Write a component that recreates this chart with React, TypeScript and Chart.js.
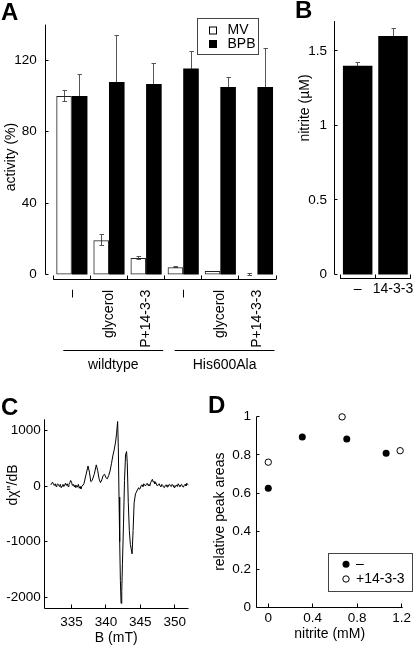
import React, { useEffect, useRef } from "react";
import { Chart, registerables } from "chart.js";
Chart.register(...registerables);

const FONT = "'Liberation Sans', Arial, Helvetica, sans-serif";
Chart.defaults.font.family = FONT;
Chart.defaults.font.size = 13.5;
Chart.defaults.color = "#000";

// ---------- Panel A data ----------
const aCategories = ["–", "glycerol", "P+14-3-3", "–", "glycerol", "P+14-3-3"];
const aSeriesNames = ["MV", "BPB"];
const aMV = [100, 19.2, 9.2, 4.1, 2.0, 0];
const aMVErr = [3, 3.2, 0.6, 0.4, 0, 0.3];
const aBPB = [100, 107.8, 106.7, 115.4, 105, 105];
const aBPBErr = [12.2, 26.2, 11.3, 9.4, 5.5, 21.6];
const aYTicks = [0, 40, 80, 120];
const aGroupLabels = ["wildtype", "His600Ala"];
const aGroupFirst = [0, 3];
const aGroupLast = [2, 5];

// ---------- Panel B data ----------
const bCategories = ["–", "14-3-3"];
const bNitrite = [1.4, 1.6];
const bErr = [0.02, 0.05];
const bYTicks = [0, 0.5, 1, 1.5];

// ---------- Panel C data ----------
const cField = [
  332.0, 332.125, 332.25, 332.375, 332.5, 332.625, 332.75, 332.875, 333.0, 333.125, 333.25, 333.375,
  333.5, 333.625, 333.75, 333.875, 334.0, 334.125, 334.25, 334.375, 334.5, 334.625, 334.75, 334.875,
  335.0, 335.125, 335.25, 335.375, 335.5, 335.625, 335.75, 335.875, 336.0, 336.125, 336.25, 336.375,
  336.5,
  336.8, 337.1, 337.4, 337.6, 337.8, 338.0, 338.3, 338.6, 338.8, 339.0, 339.2, 339.4,
  339.6, 339.8, 340.0, 340.2, 340.4, 340.6, 340.8, 341.0, 341.2, 341.4, 341.55, 341.7,
  341.8, 341.9, 342.0, 342.1, 342.2, 342.3, 342.4, 342.55, 342.7, 342.85, 343.0, 343.1,
  343.25, 343.4, 343.55, 343.7, 343.8, 343.95, 344.1, 344.3, 344.5,
  344.75, 344.875, 345.0, 345.125, 345.25, 345.375, 345.5, 345.625, 345.75, 345.875, 346.0, 346.125,
  346.25, 346.375, 346.5, 346.625, 346.75, 346.875, 347.0, 347.125, 347.25, 347.375, 347.5, 347.625,
  347.75, 347.875, 348.0, 348.125, 348.25, 348.375, 348.5, 348.625, 348.75, 348.875, 349.0, 349.125,
  349.25, 349.375, 349.5, 349.625, 349.75, 349.875, 350.0, 350.125, 350.25, 350.375, 350.5, 350.625,
  350.75, 350.875, 351.0, 351.125, 351.25, 351.375, 351.5, 351.625, 351.75, 351.875, 352.0,
];
const cSignal = [
  20, 50, 70, 30, 10, 40, -10, 20, 40, 10, -10, 30,
  -30, 0, 30, -10, 20, 50, 10, 40, -10, 30, 60, 100,
  70, 10, 30, -10, 20, -30, 10, -20, 30, -40, -10, -50,
  -10,
  40, 200, 360, 250, 80, 100, 210, 380, 280, 130, 60, 110,
  190, 210, 150, 130, 190, 270, 400, 540, 650, 790, 950, 1160,
  700, -200, -1000, -1700, -2110, -1900, -1400, -700, 100, 560, 620, 420,
  -300, -800, -1050, -1150, -1220, -800, -300, -140, -90,
  -30, -60, -40, 10, 20, -10, 40, 20, 0, 30, 50, 10,
  30, 0, 60, 90, 120, 70, 80, 40, 60, 20, 0, 30,
  40, 0, -10, 30, 10, -20, -30, 10, 20, -10, -20, 20,
  30, 0, -10, 30, 10, -20, -30, 0, 20, -10, 40, 10,
  -10, 20, 30, -10, -20, 10, 30, 0, 50, 30, 10,
];
const cXTicks = [335, 340, 345, 350];
const cYTicks = [-2000, -1000, 0, 1000];

// ---------- Panel D data ----------
const dSeriesNames = ["–", "+14-3-3"];
const dMinusX = [0, 0.306, 0.706, 1.06];
const dMinusY = [0.625, 0.894, 0.883, 0.809];
const dPlusX = [0, 0.664, 1.186];
const dPlusY = [0.762, 0.999, 0.822];
const dXTicks = [0, 0.4, 0.8, 1.2];
const dYTicks = [0, 0.2, 0.4, 0.6, 0.8, 1];

// ---------- helpers ----------
const TXT = 14;
const px = (v: number) => Math.round(v - 0.5) + 0.5;
function seg(ctx: CanvasRenderingContext2D, x1: number, y1: number, x2: number, y2: number) {
  ctx.beginPath();
  ctx.moveTo(x1, y1);
  ctx.lineTo(x2, y2);
  ctx.stroke();
}
function vTitle(ctx: CanvasRenderingContext2D, text: string, cx: number, cy: number) {
  ctx.save();
  ctx.translate(cx, cy);
  ctx.rotate(-Math.PI / 2);
  ctx.textAlign = "center";
  ctx.textBaseline = "middle";
  ctx.font = `${TXT}px ${FONT}`;
  ctx.fillStyle = "#000";
  ctx.fillText(text, 0, 0);
  ctx.restore();
}
function drawErrors(chart: any, errs: number[][]) {
  const { ctx } = chart;
  const y = chart.scales.y;
  ctx.save();
  ctx.strokeStyle = "#555";
  ctx.lineWidth = 1;
  errs.forEach((arr, di) => {
    const meta = chart.getDatasetMeta(di);
    const vals = chart.data.datasets[di].data as number[];
    meta.data.forEach((el: any, j: number) => {
      const e = arr[j];
      if (!e) return;
      const xx = px(el.x);
      const yt = px(y.getPixelForValue(vals[j] + e));
      const yb = px(y.getPixelForValue(vals[j] - e));
      seg(ctx, xx, yt, xx, yb);
      seg(ctx, xx - 2, yt, xx + 2.5, yt);
      seg(ctx, xx - 2, yb, xx + 2.5, yb);
    });
  });
  ctx.restore();
}
const noGrid = { display: false, drawTicks: false };
const noBorder = { display: false };
const fixedTicks = (arr: number[]) => (s: any) => {
  s.ticks = arr.map((v) => ({ value: v }));
};
const plain = (v: any) => String(v);

// ---------- chart configs ----------
function makeA(): any {
  const plugin = {
    id: "aDecor",
    beforeDatasetsDraw(chart: any) {
      drawErrors(chart, [aMVErr, aBPBErr]);
    },
    afterDraw(chart: any) {
      const { ctx, chartArea } = chart;
      const { x, y } = chart.scales;
      ctx.save();
      ctx.strokeStyle = "#000";
      ctx.lineWidth = 1;
      const axisX = px(chartArea.left - 7.5);
      seg(ctx, axisX, px(y.getPixelForValue(0)), axisX, chartArea.top);
      aYTicks.forEach((v) => {
        const yy = px(y.getPixelForValue(v));
        seg(ctx, axisX, yy, axisX + 3, yy);
      });
      const bottom = px(chartArea.bottom);
      seg(ctx, chartArea.left, bottom, chartArea.right, bottom);
      const w = x.getPixelForValue(1) - x.getPixelForValue(0);
      for (let i = 0; i <= aCategories.length; i++) {
        const xx = px(x.getPixelForValue(0) - w / 2 + i * w);
        seg(ctx, xx, bottom, xx, bottom - 4);
      }
      ctx.font = `${TXT}px ${FONT}`;
      ctx.fillStyle = "#000";
      ctx.textAlign = "center";
      ctx.textBaseline = "middle";
      aGroupLabels.forEach((lab, g) => {
        const x1 = x.getPixelForValue(aGroupFirst[g]) - w / 2 + 10;
        const x2 = x.getPixelForValue(aGroupLast[g]) + w / 2 - 1.5;
        const ly = px(chartArea.bottom + 71.4);
        seg(ctx, x1, ly, x2, ly);
        ctx.fillText(lab, (x1 + x2) / 2, chartArea.bottom + 86);
      });
      // legend
      ctx.strokeStyle = "#444";
      ctx.strokeRect(197.5, 18.5, 61, 36);
      ctx.textAlign = "left";
      const legY = [30.5, 44];
      aSeriesNames.forEach((name, i) => {
        ctx.fillStyle = i === 0 ? "#fff" : "#000";
        ctx.fillRect(209, legY[i] - 4, 8, 8);
        ctx.strokeStyle = "#000";
        ctx.strokeRect(209.5, legY[i] - 3.5, 7, 7);
        ctx.fillStyle = "#000";
        ctx.fillText(name, 227.5, legY[i]);
      });
      ctx.restore();
      vTitle(ctx, "activity (%)", 11, 157);
    },
  };
  return {
    type: "bar",
    data: {
      labels: aCategories,
      datasets: [
        { label: aSeriesNames[0], data: aMV, backgroundColor: "rgba(0,0,0,0)", borderColor: "#222", borderWidth: 1, borderSkipped: false },
        { label: aSeriesNames[1], data: aBPB, backgroundColor: "#000", borderColor: "#000", borderWidth: 0 },
      ],
    },
    options: {
      responsive: false,
      animation: false,
      devicePixelRatio: 1,
      layout: { padding: { top: 16, right: 14, left: 0, bottom: 0 } },
      plugins: { legend: { display: false }, tooltip: { enabled: false } },
      datasets: { bar: { categoryPercentage: 0.84, barPercentage: 1 } },
      scales: {
        x: {
          grid: noGrid,
          border: noBorder,
          ticks: { minRotation: 90, maxRotation: 90, autoSkip: false, padding: 10.5, font: { size: TXT } },
          afterFit: (s: any) => {
            s.height = 380 - 279.3;
          },
        },
        y: {
          min: -2.7,
          max: 140,
          grid: noGrid,
          border: noBorder,
          ticks: { padding: 16.5, callback: plain },
          afterBuildTicks: fixedTicks(aYTicks),
          afterFit: (s: any) => {
            s.width = 53.3;
          },
        },
      },
    },
    plugins: [plugin],
  };
}

function makeB(): any {
  const plugin = {
    id: "bDecor",
    beforeDatasetsDraw(chart: any) {
      drawErrors(chart, [bErr]);
    },
    afterDraw(chart: any) {
      const { ctx, chartArea } = chart;
      const { x, y } = chart.scales;
      ctx.save();
      ctx.strokeStyle = "#000";
      ctx.lineWidth = 1;
      const axisX = px(chartArea.left - 6);
      seg(ctx, axisX, px(y.getPixelForValue(0)), axisX, chartArea.top);
      bYTicks.forEach((v) => {
        const yy = px(y.getPixelForValue(v));
        seg(ctx, axisX, yy, axisX + 3, yy);
      });
      const bottom = px(chartArea.bottom);
      seg(ctx, chartArea.left, bottom, chartArea.right, bottom);
      const w = x.getPixelForValue(1) - x.getPixelForValue(0);
      for (let i = 0; i <= bCategories.length; i++) {
        const xx = px(x.getPixelForValue(0) - w / 2 + i * w);
        seg(ctx, xx, bottom, xx, bottom - 4);
      }
      ctx.restore();
      vTitle(ctx, "nitrite (µM)", 15, 108);
    },
  };
  return {
    type: "bar",
    data: {
      labels: bCategories,
      datasets: [{ label: "nitrite", data: bNitrite, backgroundColor: "#000", borderWidth: 0 }],
    },
    options: {
      responsive: false,
      animation: false,
      devicePixelRatio: 1,
      layout: { padding: { top: 17, right: 1, left: 0, bottom: 0 } },
      plugins: { legend: { display: false }, tooltip: { enabled: false } },
      datasets: { bar: { categoryPercentage: 0.835, barPercentage: 1 } },
      scales: {
        x: {
          grid: noGrid,
          border: noBorder,
          ticks: { maxRotation: 0, autoSkip: false, padding: 2.5, font: { size: TXT } },
          afterFit: (s: any) => {
            s.height = 330 - 278.5;
          },
        },
        y: {
          min: -0.027,
          max: 1.7,
          grid: noGrid,
          border: noBorder,
          ticks: { padding: 13, callback: plain },
          afterBuildTicks: fixedTicks(bYTicks),
          afterFit: (s: any) => {
            s.width = 50;
          },
        },
      },
    },
    plugins: [plugin],
  };
}

function makeC(): any {
  const plugin = {
    id: "cDecor",
    afterDraw(chart: any) {
      const { ctx, chartArea } = chart;
      const { x, y } = chart.scales;
      ctx.save();
      ctx.strokeStyle = "#000";
      ctx.lineWidth = 1;
      const axisX = px(chartArea.left);
      const bottom = px(chartArea.bottom);
      seg(ctx, axisX, bottom, axisX, chartArea.top);
      seg(ctx, axisX, bottom, chartArea.right, bottom);
      cYTicks.forEach((v) => {
        const yy = px(y.getPixelForValue(v));
        seg(ctx, axisX, yy, axisX + 3, yy);
      });
      cXTicks.forEach((v) => {
        const xx = px(x.getPixelForValue(v));
        seg(ctx, xx, bottom, xx, bottom - 4);
      });
      ctx.restore();
      vTitle(ctx, 'dχ"/dB', 13, 90);
    },
  };
  return {
    type: "line",
    data: {
      datasets: [
        {
          label: "EPR",
          data: cField.map((b, i) => ({ x: b, y: cSignal[i] })),
          borderColor: "#000",
          borderWidth: 1,
          pointRadius: 0,
          tension: 0,
          fill: false,
        },
      ],
    },
    options: {
      responsive: false,
      animation: false,
      devicePixelRatio: 1,
      layout: { padding: { top: 24.3, right: 16.5, left: 0, bottom: 0 } },
      plugins: { legend: { display: false }, tooltip: { enabled: false } },
      scales: {
        x: {
          type: "linear",
          min: 331,
          max: 352,
          grid: noGrid,
          border: noBorder,
          ticks: { padding: 6, callback: plain, maxRotation: 0 },
          afterBuildTicks: fixedTicks(cXTicks),
          title: { display: true, text: "B (mT)", font: { size: TXT }, padding: { top: 0, bottom: 1 } },
          afterFit: (s: any) => {
            s.height = 253 - 213.3;
          },
        },
        y: {
          min: -2200,
          max: 1200,
          grid: noGrid,
          border: noBorder,
          ticks: { padding: 3.3, callback: plain },
          afterBuildTicks: fixedTicks(cYTicks),
          afterFit: (s: any) => {
            s.width = 44;
          },
        },
      },
    },
    plugins: [plugin],
  };
}

function makeD(): any {
  const plugin = {
    id: "dDecor",
    afterDraw(chart: any) {
      const { ctx, chartArea } = chart;
      const { x, y } = chart.scales;
      ctx.save();
      ctx.strokeStyle = "#000";
      ctx.lineWidth = 1;
      const axisX = px(chartArea.left);
      const bottom = px(chartArea.bottom);
      seg(ctx, axisX, bottom, axisX, chartArea.top);
      seg(ctx, axisX, bottom, chartArea.right, bottom);
      dYTicks.forEach((v) => {
        const yy = px(y.getPixelForValue(v));
        seg(ctx, axisX, yy, axisX + 3, yy);
      });
      dXTicks.forEach((v) => {
        const xx = px(x.getPixelForValue(v));
        seg(ctx, xx, bottom, xx, bottom - 4);
      });
      // legend
      ctx.strokeStyle = "#444";
      ctx.strokeRect(123.5, 158.5, 84, 38);
      ctx.font = `${TXT}px ${FONT}`;
      ctx.textAlign = "left";
      ctx.textBaseline = "middle";
      const legY = [169.3, 184];
      dSeriesNames.forEach((name, i) => {
        ctx.beginPath();
        ctx.arc(141, legY[i], i === 0 ? 3.5 : 3.2, 0, Math.PI * 2);
        if (i === 0) {
          ctx.fillStyle = "#000";
          ctx.fill();
        } else {
          ctx.fillStyle = "#fff";
          ctx.fill();
          ctx.strokeStyle = "#000";
          ctx.stroke();
        }
        ctx.fillStyle = "#000";
        ctx.fillText(name, 151, legY[i]);
      });
      ctx.restore();
      vTitle(ctx, "relative peak areas", 15, 116.7);
    },
  };
  return {
    type: "scatter",
    data: {
      datasets: [
        {
          label: dSeriesNames[0],
          data: dMinusX.map((v, i) => ({ x: v, y: dMinusY[i] })),
          pointRadius: 3.5,
          pointBackgroundColor: "#000",
          pointBorderColor: "#000",
          pointBorderWidth: 0,
          clip: false,
        },
        {
          label: dSeriesNames[1],
          data: dPlusX.map((v, i) => ({ x: v, y: dPlusY[i] })),
          pointRadius: 3.2,
          pointBackgroundColor: "#fff",
          pointBorderColor: "#000",
          pointBorderWidth: 1,
          clip: false,
        },
      ],
    },
    options: {
      responsive: false,
      animation: false,
      devicePixelRatio: 1,
      layout: { padding: { top: 21.7, right: 13.3, left: 0, bottom: 0 } },
      plugins: { legend: { display: false }, tooltip: { enabled: false } },
      scales: {
        x: {
          type: "linear",
          min: -0.104,
          max: 1.209,
          grid: noGrid,
          border: noBorder,
          ticks: { padding: 2.5, callback: plain, maxRotation: 0 },
          afterBuildTicks: fixedTicks(dXTicks),
          title: { display: true, text: "nitrite (mM)", font: { size: TXT }, padding: { top: 0, bottom: 5.5 } },
          afterFit: (s: any) => {
            s.height = 253 - 212.7;
          },
        },
        y: {
          min: 0,
          max: 1,
          grid: noGrid,
          border: noBorder,
          ticks: { padding: 5.7, callback: plain },
          afterBuildTicks: fixedTicks(dYTicks),
          afterFit: (s: any) => {
            s.width = 51.7;
          },
        },
      },
    },
    plugins: [plugin],
  };
}

function Panel(props: { left: number; top: number; width: number; height: number; make: () => any }) {
  const ref = useRef<HTMLCanvasElement>(null);
  useEffect(() => {
    const chart = new Chart(ref.current as HTMLCanvasElement, props.make());
    return () => chart.destroy();
  }, []);
  return (
    <canvas
      ref={ref}
      width={props.width}
      height={props.height}
      style={{ position: "absolute", left: props.left, top: props.top, width: props.width, height: props.height }}
    />
  );
}

const letterStyle = (left: number, top: number): React.CSSProperties => ({
  position: "absolute",
  left,
  top,
  font: `bold 24px ${FONT}`,
  lineHeight: "24px",
  color: "#000",
});

export default function App() {
  return (
    <div style={{ position: "absolute", left: 0, top: 0, width: 416, height: 648, background: "#fff", overflow: "hidden" }}>
      <Panel left={0} top={0} width={290} height={380} make={makeA} />
      <Panel left={290} top={0} width={126} height={330} make={makeB} />
      <Panel left={0} top={395} width={205} height={253} make={makeC} />
      <Panel left={205} top={395} width={211} height={253} make={makeD} />
      <div style={letterStyle(1, 0)}>A</div>
      <div style={letterStyle(295, -2)}>B</div>
      <div style={letterStyle(1, 395)}>C</div>
      <div style={letterStyle(208, 393)}>D</div>
    </div>
  );
}
